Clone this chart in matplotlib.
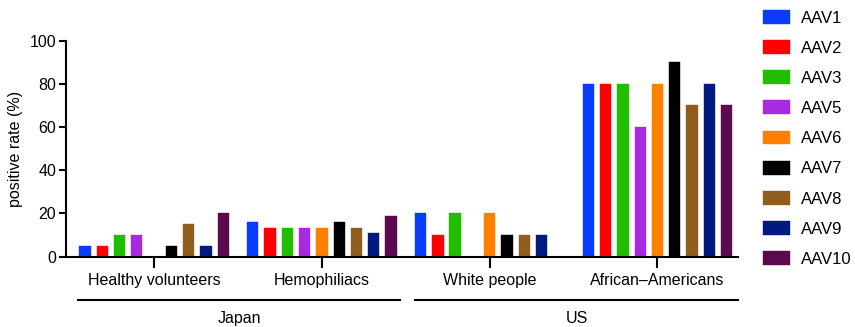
import matplotlib.pyplot as plt
import numpy as np

plt.rcParams['font.family'] = ['Liberation Sans', 'DejaVu Sans']

groups = ["Healthy volunteers", "Hemophiliacs", "White people", "African\u2013Americans"]
regions = ["Japan", "US"]
serotypes = ["AAV1", "AAV2", "AAV3", "AAV5", "AAV6", "AAV7", "AAV8", "AAV9", "AAV10"]
colors = ["#0a3cff", "#ff0000", "#1fbf00", "#a62ae0", "#ff8000",
          "#000000", "#8f5e1e", "#001a80", "#5c0a4e"]

# positive rate (%) per serotype, one list per group
healthy = [5, 5, 10, 10, 0, 5, 15, 5, 20]
hemophiliacs = [16.2, 13.5, 13.5, 13.5, 13.5, 16.2, 13.5, 10.8, 18.9]
white = [20, 10, 20, 0, 20, 10, 10, 10, 0]
african_american = [80, 80, 80, 60, 80, 90, 70, 80, 70]
values = np.array([healthy, hemophiliacs, white, african_american])

fig = plt.figure(figsize=(8.55, 3.27), dpi=100)
ax = fig.add_axes([0.0772, 0.215, 0.786, 0.661])

x = np.arange(len(groups))
pitch = 0.103
width = 0.0675
for i, (name, c) in enumerate(zip(serotypes, colors)):
    offs = (i - 4) * pitch
    ax.bar(x + offs, values[:, i], width=width, color=c, label=name,
           edgecolor=c, linewidth=0.3)

ax.set_xlim(-0.525, 3.48)
ax.set_ylim(0, 100)
ax.set_yticks([0, 20, 40, 60, 80, 100])
ax.set_xticks(x)
ax.set_xticklabels(groups)
ax.set_ylabel("positive rate (%)", fontsize=11.5, labelpad=5)

for s in ["top", "right"]:
    ax.spines[s].set_visible(False)
for s in ["left", "bottom"]:
    ax.spines[s].set_linewidth(1.5)
ax.tick_params(axis="y", length=5, width=1.5, labelsize=11.5, pad=2)
ax.tick_params(axis="x", length=8, width=1.5, labelsize=11.5, pad=4)

# region brackets under the group labels
trans = ax.get_xaxis_transform()
spans = [(-0.453, 1.467), (1.556, 3.48)]
for (a, b), name in zip(spans, regions):
    ax.plot([a, b], [-0.2, -0.2], color="black", lw=1.5, transform=trans,
            clip_on=False)
    ax.text((a + b) / 2, -0.285, name, transform=trans, ha="center",
            va="center", fontsize=11.5)

fig.legend(loc="upper left", bbox_to_anchor=(763 / 855, 1 - 10 / 327),
           frameon=False, fontsize=12, handlelength=1.62, handleheight=0.9,
           handletextpad=0.66, labelspacing=0.87, borderpad=0, borderaxespad=0)

fig.savefig("out.png", dpi=100)
